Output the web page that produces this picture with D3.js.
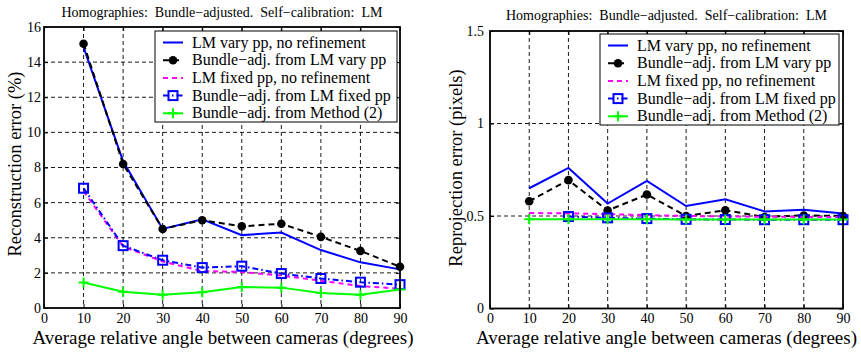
<!DOCTYPE html>
<html>
<head>
<meta charset="utf-8">
<script src="https://cdn.jsdelivr.net/npm/d3@7"></script>
<style>
  body { margin: 0; background: #fff; }
</style>
</head>
<body>
<div id="chart"></div>
<script>
// angles on the x axis (degrees)
var angles = [10, 20, 30, 40, 50, 60, 70, 80, 90];
var xTicks = [0, 10, 20, 30, 40, 50, 60, 70, 80, 90];

// left panel: reconstruction error (%)
var reconLmVary   = [14.85, 8.35, 4.5, 5.05, 4.15, 4.3, 3.3, 2.6, 2.2];
var reconBaVary   = [15.05, 8.2, 4.5, 5.0, 4.65, 4.8, 4.05, 3.25, 2.35];
var reconLmFixed  = [6.65, 3.5, 2.65, 2.1, 2.05, 1.85, 1.55, 1.25, 1.1];
var reconBaFixed  = [6.82, 3.55, 2.72, 2.3, 2.38, 1.96, 1.68, 1.47, 1.33];
var reconMethod2  = [1.45, 0.93, 0.76, 0.9, 1.2, 1.16, 0.86, 0.76, 1.05];
var reconTicks = [0, 2, 4, 6, 8, 10, 12, 14, 16];

// right panel: reprojection error (pixels)
var reprojLmVary  = [0.65, 0.76, 0.567, 0.69, 0.554, 0.59, 0.525, 0.534, 0.514];
var reprojBaVary  = [0.58, 0.694, 0.53, 0.616, 0.5, 0.531, 0.495, 0.503, 0.5];
var reprojLmFixed = [0.516, 0.514, 0.51, 0.505, 0.5, 0.498, 0.496, 0.495, 0.494];
var reprojBaFixed = [null, 0.497, 0.49, 0.486, 0.482, 0.481, 0.48, 0.48, 0.48];
var reprojMethod2 = [0.483, 0.483, 0.482, 0.482, 0.481, 0.481, 0.481, 0.481, 0.481];
var reprojTicks = [0, 0.5, 1, 1.5];

var legendLabels = [
  "LM vary pp, no refinement",
  "Bundle\u2212adj. from LM vary pp",
  "LM fixed pp, no refinement",
  "Bundle\u2212adj. from LM fixed pp",
  "Bundle\u2212adj. from Method (2)"
];
var titleText = "Homographies:  Bundle\u2212adjusted.  Self\u2212calibration:  LM";
var xLabel = "Average relative angle between cameras (degrees)";

var serif = "'Liberation Serif', 'Times New Roman', Times, serif";

var styles = [
  {color: "#0000ff", dash: null,       marker: null},
  {color: "#000000", dash: "6,4",      marker: "dot"},
  {color: "#ff00ff", dash: "5,4",      marker: null},
  {color: "#0000ff", dash: "6,3,1.5,3", marker: "square"},
  {color: "#00ff00", dash: null,       marker: "plus"}
];

var svg = d3.select("#chart").append("svg")
  .attr("width", 861)
  .attr("height", 352)
  .attr("font-family", serif);

svg.append("rect").attr("width", 861).attr("height", 352).style("fill", "#fff");

function drawMarker(g, type, cx, cy, color){
  if(type == "dot"){
    g.append("circle").attr("cx", cx).attr("cy", cy).attr("r", 4.3)
      .style("fill", color);
  } else if(type == "square"){
    g.append("rect").attr("x", cx - 4.5).attr("y", cy - 4.5)
      .attr("width", 9).attr("height", 9)
      .style("fill", "none").style("stroke", color).style("stroke-width", 2);
  } else if(type == "plus"){
    g.append("path").attr("d", "M" + (cx - 5) + "," + cy + "H" + (cx + 5) + "M" + cx + "," + (cy - 5) + "V" + (cy + 5))
      .style("stroke", color).style("stroke-width", 2);
  }
}

function drawPanel(p){
  var x = d3.scaleLinear().domain([0, 90]).range([p.left, p.right]);
  var y = d3.scaleLinear().domain([0, p.yMax]).range([p.bottom, p.top]);
  var g = svg.append("g");

  // dashed grid
  g.append("g").selectAll("line").data(angles.slice(0, 8)).enter().append("line")
    .attr("x1", function(d){ return x(d); }).attr("x2", function(d){ return x(d); })
    .attr("y1", p.top).attr("y2", p.bottom)
    .style("stroke", "#000").style("stroke-width", 0.9).style("stroke-dasharray", "4,3");
  g.append("g").selectAll("line").data(p.yTicks.slice(1, -1)).enter().append("line")
    .attr("x1", p.left).attr("x2", p.right)
    .attr("y1", function(d){ return y(d); }).attr("y2", function(d){ return y(d); })
    .style("stroke", "#000").style("stroke-width", 0.9).style("stroke-dasharray", "4,3");

  // axes with inward ticks
  g.append("g").attr("transform", "translate(0," + p.bottom + ")")
    .call(d3.axisBottom(x).tickValues(xTicks).tickSize(-4).tickPadding(5));
  g.append("g").attr("transform", "translate(" + p.left + ",0)")
    .call(d3.axisLeft(y).tickValues(p.yTicks).tickSize(-4).tickPadding(p.yPad).tickFormat(d3.format("~g")));
  g.append("g").attr("transform", "translate(0," + p.top + ")")
    .call(d3.axisTop(x).tickValues(xTicks).tickSize(-4).tickFormat(""));
  g.append("g").attr("transform", "translate(" + p.right + ",0)")
    .call(d3.axisRight(y).tickValues(p.yTicks).tickSize(-4).tickFormat(""));
  g.selectAll(".domain").remove();
  g.selectAll(".tick line").style("stroke", "#000").style("stroke-width", 1);
  g.selectAll(".tick text").attr("font-family", serif).attr("font-size", 14).style("fill", "#000");

  // series
  var line = d3.line()
    .defined(function(d){ return d[1] != null; })
    .x(function(d){ return x(d[0]); })
    .y(function(d){ return y(d[1]); });

  p.series.forEach(function(vals, i){
    var st = styles[i];
    var pts = angles.map(function(a, j){ return [a, vals[j]]; });
    g.append("path").datum(pts).attr("d", line)
      .style("fill", "none").style("stroke", st.color).style("stroke-width", 2)
      .style("stroke-dasharray", st.dash);
    pts.forEach(function(d){
      if(d[1] != null) drawMarker(g, st.marker, x(d[0]), y(d[1]), st.color);
    });
  });

  // frame
  g.append("rect").attr("x", p.left).attr("y", p.top)
    .attr("width", p.right - p.left).attr("height", p.bottom - p.top)
    .style("fill", "none").style("stroke", "#000").style("stroke-width", 1.8);

  // legend
  var lg = g.append("g");
  lg.append("rect").attr("x", p.legX).attr("y", p.legY).attr("width", p.legW).attr("height", 91)
    .style("fill", "#fff").style("stroke", "#000").style("stroke-width", 1);
  legendLabels.forEach(function(lab, i){
    var st = styles[i];
    var cy = p.legY + 11.5 + i * 17.7;
    var x0 = p.legX + 8, x1 = p.legX + 28;
    lg.append("line").attr("x1", x0).attr("x2", x1).attr("y1", cy).attr("y2", cy)
      .style("stroke", st.color).style("stroke-width", 2).style("stroke-dasharray", st.dash);
    drawMarker(lg, st.marker, (x0 + x1) / 2, cy, st.color);
    lg.append("text").attr("x", p.legX + 37).attr("y", cy + 5)
      .attr("font-size", 16).text(lab);
  });

  // titles
  g.append("text").attr("x", (p.left + p.right) / 2).attr("y", p.titleY)
    .attr("text-anchor", "middle").attr("font-size", 14).style("white-space", "pre")
    .text(titleText);
  g.append("text").attr("x", (p.left + p.right) / 2 + p.xLabShift).attr("y", 344)
    .attr("text-anchor", "middle").attr("font-size", 19).text(xLabel);
  g.append("text").attr("transform", "translate(" + p.yLabX + "," + p.yLabY + ") rotate(-90)")
    .attr("text-anchor", "middle").attr("font-size", 18.5).text(p.yLabel);
}

drawPanel({
  left: 44, right: 400, top: 27, bottom: 308, yMax: 16, yTicks: reconTicks, yPad: 3,
  series: [reconLmVary, reconBaVary, reconLmFixed, reconBaFixed, reconMethod2],
  legX: 155, legY: 31, legW: 242, titleY: 17, xLabShift: 1,
  yLabX: 21, yLabY: 164, yLabel: "Reconstruction error (%)"
});

drawPanel({
  left: 490, right: 843, top: 31, bottom: 308.5, yMax: 1.5, yTicks: reprojTicks, yPad: 6,
  series: [reprojLmVary, reprojBaVary, reprojLmFixed, reprojBaFixed, reprojMethod2],
  legX: 600, legY: 34, legW: 239, titleY: 20, xLabShift: 0,
  yLabX: 462, yLabY: 168, yLabel: "Reprojection error (pixels)"
});
</script>
</body>
</html>
